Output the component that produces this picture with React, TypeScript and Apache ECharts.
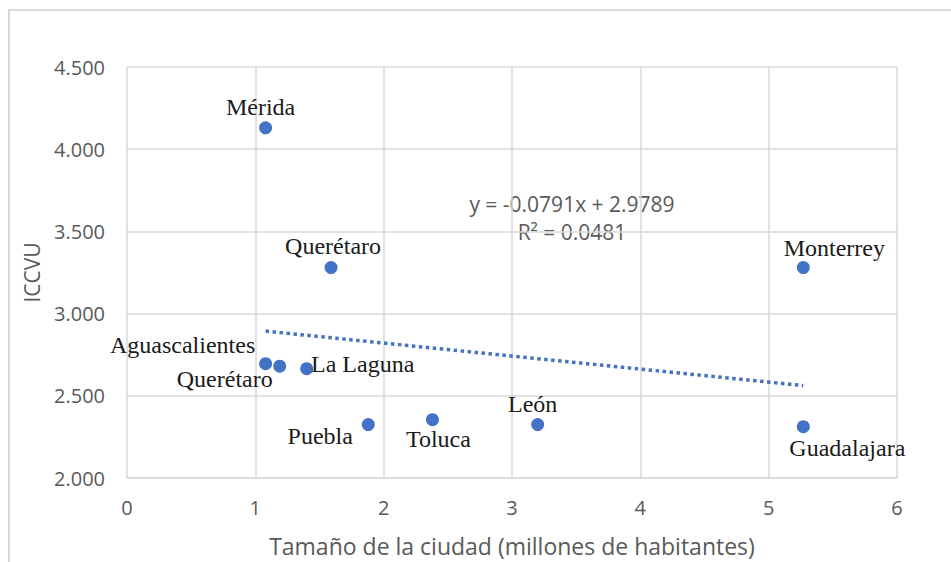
import React, { useEffect, useRef } from "react";
import * as echarts from "echarts";

const cities = ["Mérida", "Querétaro", "Monterrey", "Aguascalientes", "Querétaro", "La Laguna", "Puebla", "Toluca", "León", "Guadalajara"];
const citySize = [1.08, 1.59, 5.27, 1.08, 1.19, 1.40, 1.88, 2.38, 3.20, 5.27];
const iccvu = [4.13, 3.28, 3.28, 2.695, 2.68, 2.665, 2.325, 2.355, 2.325, 2.312];
const trendSlope = -0.0791;
const trendIntercept = 2.9789;
const trendR2 = 0.0481;
const yTicks = [2, 2.5, 3, 3.5, 4, 4.5];
const xTicks = [0, 1, 2, 3, 4, 5, 6];

const labelOffsets: number[][] = [
  [-5, -21], [2, -22], [31, -20], [-83, -19], [-55, 13], [56, -5], [-48, 11], [6, 19], [-5, -21], [44, 21],
];

export default function App() {
  const ref = useRef<HTMLDivElement>(null);
  useEffect(() => {
    if (!ref.current) return;
    const chart = echarts.init(ref.current, null, { renderer: "svg" });
    const xMin = Math.min(...citySize);
    const xMax = Math.max(...citySize);
    const grey = "#595959";
    const gridColor = "#d9d9d9";
    chart.setOption({
      animation: false,
      backgroundColor: "#ffffff",
      grid: { left: 127, right: 54, top: 67, bottom: 81 },
      xAxis: {
        type: "value",
        min: xTicks[0],
        max: xTicks[xTicks.length - 1],
        interval: 1,
        name: "Tamaño de la ciudad (millones de habitantes)",
        nameLocation: "middle",
        nameGap: 56,
        nameTextStyle: { color: grey, fontSize: 23, fontFamily: "Open Sans" },
        axisLine: { show: true, lineStyle: { color: gridColor, width: 1.5 } },
        axisTick: { show: false },
        axisLabel: { color: grey, fontSize: 20, fontFamily: "Open Sans", margin: 19 },
        splitLine: { show: true, lineStyle: { color: gridColor, width: 1.5 } },
      },
      yAxis: {
        type: "value",
        min: yTicks[0],
        max: yTicks[yTicks.length - 1],
        interval: 0.5,
        name: "ICCVU",
        nameLocation: "middle",
        nameGap: 85,
        nameRotate: 90,
        nameTextStyle: { color: grey, fontSize: 21, fontFamily: "Open Sans" },
        axisLine: { show: false },
        axisTick: { show: false },
        axisLabel: {
          color: grey,
          fontSize: 20,
          fontFamily: "Open Sans",
          margin: 22,
          formatter: (v: number) => v.toFixed(3),
        },
        splitLine: { show: true, lineStyle: { color: gridColor, width: 1.5 } },
      },
      graphic: [
        {
          type: "rect",
          shape: { x: 9, y: 10, width: 1000, height: 600 },
          style: { fill: "none", stroke: gridColor, lineWidth: 2 },
          silent: true,
          z: -10,
        },
        {
          type: "text",
          x: 572,
          y: 204,
          style: {
            text: `y = ${trendSlope.toFixed(4)}x + ${trendIntercept.toFixed(4)}`,
            fill: grey,
            font: "21px 'Open Sans'",
            align: "center",
            verticalAlign: "middle",
          },
        },
        {
          type: "text",
          x: 572,
          y: 232,
          style: {
            text: `R² = ${trendR2.toFixed(4)}`,
            fill: grey,
            font: "21px 'Open Sans'",
            align: "center",
            verticalAlign: "middle",
          },
        },
      ],
      series: [
        {
          type: "line",
          data: [
            [xMin, trendSlope * xMin + trendIntercept],
            [xMax, trendSlope * xMax + trendIntercept],
          ],
          showSymbol: false,
          symbol: "none",
          lineStyle: { color: "#4472C4", width: 3.5, type: [3.5, 3.5] },
          z: 1,
        },
        {
          type: "scatter",
          symbolSize: 13,
          itemStyle: { color: "#4472C4", opacity: 1 },
          z: 3,
          data: cities.map((c, i) => ({
            value: [citySize[i], iccvu[i]],
            name: c,
            label: {
              show: true,
              formatter: c,
              position: "inside",
              offset: labelOffsets[i],
              align: "center",
              verticalAlign: "middle",
              color: "#1a1a1a",
              fontSize: 24,
              fontFamily: "Liberation Serif",
            },
          })),
        },
      ],
    });
    return () => chart.dispose();
  }, []);
  return (
    <div
      ref={ref}
      style={{ position: "fixed", left: 0, top: 0, width: 951, height: 562 }}
    />
  );
}
